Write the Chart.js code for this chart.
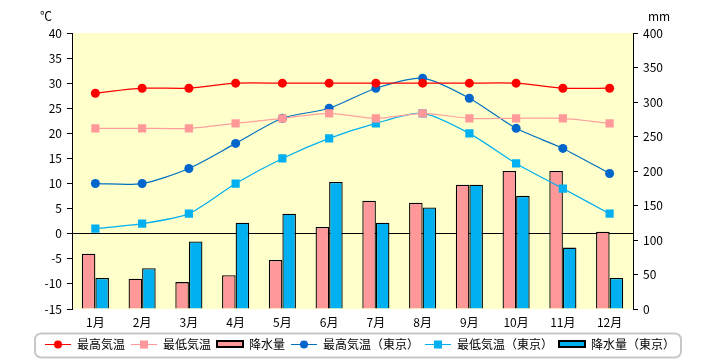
<!DOCTYPE html>
<html>
<head>
<meta charset="utf-8">
<script src="https://cdn.jsdelivr.net/npm/chart.js@4/dist/chart.umd.min.js"></script>
<style>
html,body{margin:0;padding:0;background:#fff;}
#wrap{position:relative;width:720px;height:360px;}
</style>
</head>
<body>
<div id="wrap"><canvas id="c" width="720" height="360"></canvas></div>
<script>
const months = ['1月','2月','3月','4月','5月','6月','7月','8月','9月','10月','11月','12月'];
const maxTemp = [28,29,29,30,30,30,30,30,30,30,29,29];
const minTemp = [21,21,21,22,23,24,23,24,23,23,23,22];
const precip = [80,44,39,49,71,119,157,154,180,200,200,112];
const tokyoMax = [10,10,13,18,23,25,29,31,27,21,17,12];
const tokyoMin = [1,2,4,10,15,19,22,24,20,14,9,4];
const tokyoPrecip = [45,59,98,125,138,184,125,147,180,164,89,45];
const seriesLabels = ['最高気温','最低気温','降水量','最高気温（東京）','最低気温（東京）','降水量（東京）'];
const tempUnit = '℃';
const precipUnit = 'mm';

const FONT = '"Noto Sans CJK JP", "DejaVu Sans", sans-serif';

function lineIcon(color, marker, mcolor) {
  const cv = document.createElement('canvas');
  cv.width = 26; cv.height = 12;
  const g = cv.getContext('2d');
  g.strokeStyle = color; g.lineWidth = 1;
  g.beginPath(); g.moveTo(0, 6.5); g.lineTo(26, 6.5); g.stroke();
  g.fillStyle = mcolor;
  if (marker === 'circle') { g.beginPath(); g.arc(13, 6.5, 4, 0, Math.PI*2); g.fill(); }
  else { g.fillRect(9, 2.5, 8, 8); }
  return cv;
}
function barIcon(color) {
  const cv = document.createElement('canvas');
  cv.width = 28; cv.height = 12;
  const g = cv.getContext('2d');
  g.fillStyle = color; g.fillRect(1, 3, 26, 6);
  g.strokeStyle = '#000'; g.lineWidth = 2; g.strokeRect(1, 3, 26, 6);
  return cv;
}
const icons = [
  lineIcon('#ff0000','circle','#ff0000'),
  lineIcon('#ff9999','rect','#ff9999'),
  barIcon('#ff9999'),
  lineIcon('#0070c0','circle','#0066cc'),
  lineIcon('#00b0f0','rect','#00b0f0'),
  barIcon('#00b0f0')
];

const bgPlugin = {
  id: 'bg',
  beforeDraw(chart) {
    const {ctx, chartArea: a} = chart;
    ctx.save(); ctx.fillStyle = '#ffffcc';
    ctx.fillRect(a.left, a.top, a.right - a.left, a.bottom - a.top);
    ctx.restore();
  },
  afterDraw(chart) {
    const ctx = chart.ctx;
    ctx.save();
    ctx.fillStyle = '#000'; ctx.font = '12px ' + FONT;
    ctx.textBaseline = 'middle';
    ctx.textAlign = 'left';
    ctx.fillText(tempUnit, 40, 16);
    ctx.fillText(precipUnit, 648, 16);
    const lg = chart.legend;
    if (lg && lg.legendHitBoxes && lg.legendHitBoxes.length) {
      const hb = lg.legendHitBoxes;
      const x0 = hb[0].left - 10, x1 = hb[hb.length-1].left + hb[hb.length-1].width + 6;
      const y0 = 333.5, y1 = 357.5, r = 6;
      ctx.strokeStyle = '#c8c8c8'; ctx.lineWidth = 2;
      ctx.beginPath();
      ctx.moveTo(x0 + r, y0); ctx.lineTo(x1 - r, y0); ctx.arcTo(x1, y0, x1, y0 + r, r);
      ctx.lineTo(x1, y1 - r); ctx.arcTo(x1, y1, x1 - r, y1, r);
      ctx.lineTo(x0 + r, y1); ctx.arcTo(x0, y1, x0, y1 - r, r);
      ctx.lineTo(x0, y0 + r); ctx.arcTo(x0, y0, x0 + r, y0, r);
      ctx.closePath(); ctx.stroke();
    }
    ctx.restore();
  }
};

const lineDs = (label, data, color, pcolor, style, radius) => ({
  type: 'line', label, data, yAxisID: 'y', order: 0,
  borderColor: color, backgroundColor: pcolor, borderWidth: 1.2,
  pointStyle: style, pointRadius: radius, pointHoverRadius: radius,
  pointBackgroundColor: pcolor, pointBorderColor: pcolor, pointBorderWidth: 0,
  tension: 0.25, fill: false
});

new Chart(document.getElementById('c'), {
  data: {
    labels: months,
    datasets: [
      lineDs(seriesLabels[0], maxTemp, '#ff0000', '#ff0000', 'circle', 4.5),
      lineDs(seriesLabels[1], minTemp, '#ffa0a0', '#ff9999', 'rect', 5.8),
      { type: 'bar', label: seriesLabels[2], data: precip, yAxisID: 'y1', order: 1,
        backgroundColor: '#ff9999', borderColor: '#000', borderWidth: 1.3, borderSkipped: 'bottom',
        categoryPercentage: 0.58, barPercentage: 1.0 },
      lineDs(seriesLabels[3], tokyoMax, '#0070c0', '#0066cc', 'circle', 4.5),
      lineDs(seriesLabels[4], tokyoMin, '#00b0f0', '#00b0f0', 'rect', 5.8),
      { type: 'bar', label: seriesLabels[5], data: tokyoPrecip, yAxisID: 'y1', order: 1,
        backgroundColor: '#00b0f0', borderColor: '#000', borderWidth: 1.3, borderSkipped: 'bottom',
        categoryPercentage: 0.58, barPercentage: 1.0 }
    ]
  },
  options: {
    responsive: false,
    animation: false,
    layout: { padding: { top: 33, bottom: 0, left: 0, right: 0 } },
    plugins: {
      tooltip: { enabled: false },
      legend: {
        position: 'bottom',
        labels: {
          usePointStyle: true,
          pointStyleWidth: 26,
          padding: 6,
          color: '#000',
          font: { family: FONT, size: 12 },
          sort: (a, b) => a.datasetIndex - b.datasetIndex,
          generateLabels(chart) {
            return chart.data.datasets.map((ds, i) => ({
              text: ds.label, datasetIndex: i, pointStyle: icons[i],
              fillStyle: 'transparent', strokeStyle: 'transparent', lineWidth: 0,
              fontColor: '#000', hidden: false
            }));
          }
        }
      }
    },
    scales: {
      x: {
        grid: { display: false, drawTicks: false },
        border: { display: false },
        ticks: { color: '#000', padding: 6, font: { family: FONT, size: 12 }, maxRotation: 0 },
        afterFit(s) { s.height = 23; }
      },
      y: {
        position: 'left', min: -15, max: 40,
        ticks: { stepSize: 5, color: '#000', padding: 5, font: { family: FONT, size: 12 } },
        grid: { drawOnChartArea: true, drawTicks: true, tickLength: 5, tickColor: '#000',
                color: c => (c.tick && c.tick.value === 0) ? '#000' : 'rgba(0,0,0,0)', lineWidth: 1 },
        border: { display: true, color: '#000', width: 1 },
        afterFit(s) { s.width = 72; }
      },
      y1: {
        position: 'right', min: 0, max: 400,
        ticks: { stepSize: 50, color: '#000', padding: 5, font: { family: FONT, size: 12 } },
        grid: { drawOnChartArea: false, drawTicks: true, tickLength: 5, tickColor: '#000', color: '#000' },
        border: { display: true, color: '#000', width: 1 },
        afterFit(s) { s.width = 87; }
      }
    }
  },
  plugins: [bgPlugin]
});
</script>
</body>
</html>
